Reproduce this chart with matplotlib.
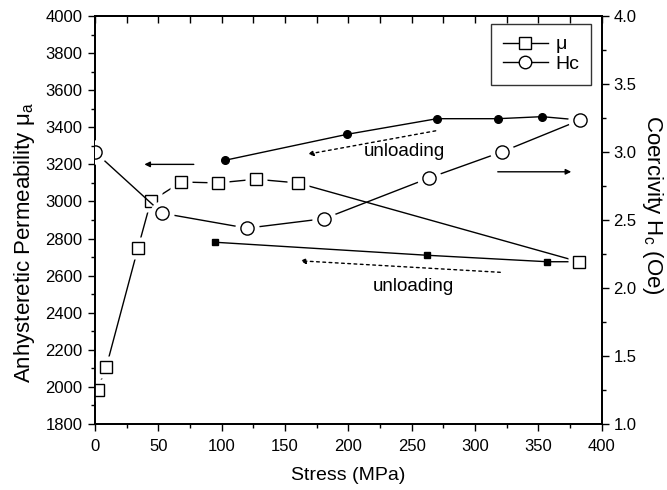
import matplotlib
matplotlib.use("Agg")
import matplotlib.pyplot as plt
from matplotlib.ticker import MultipleLocator, NullFormatter

plt.rcParams["font.family"] = ["Liberation Sans", "DejaVu Sans"]

# permeability, loading (open squares)
mu_stress = [2, 9, 34, 44, 68, 97, 127, 160, 382]
mu_vals = [1985, 2110, 2750, 3000, 3105, 3100, 3120, 3100, 2675]
# permeability, unloading (filled squares)
mu_un_stress = [357, 262, 95]
mu_un_vals = [2675, 2710, 2780]

# coercivity, loading (open circles)
hc_stress = [0, 53, 120, 181, 264, 321, 383]
hc_vals = [3.0, 2.55, 2.44, 2.51, 2.81, 3.0, 3.235]
# coercivity, unloading (filled circles)
hc_un_stress = [353, 318, 270, 199, 103]
hc_un_vals = [3.26, 3.245, 3.245, 3.13, 2.94]

BG = "white"
FS = 12

fig = plt.figure(figsize=(6.67, 4.90), dpi=100)
ax = fig.add_axes([0.1424, 0.1347, 0.7596, 0.8326])
ax2 = ax.twinx()


def gapped(a, x, y, marker, ms):
    # line, then a white halo under each marker so the line stops short of it
    a.plot(x, y, color="black", lw=1.0, zorder=2)
    a.plot(x, y, ls="none", marker=marker, ms=ms + 8, mfc=BG, mec="none", zorder=3)
    a.plot(x, y, ls="none", marker=marker, ms=ms, mfc=BG, mec="black", mew=1.0, zorder=4)


gapped(ax, mu_stress, mu_vals, "s", 8)
ax.plot([mu_stress[-1]] + mu_un_stress, [mu_vals[-1]] + mu_un_vals, color="black", lw=1.0, zorder=2)
ax.plot(mu_un_stress, mu_un_vals, ls="none", marker="s", ms=5, color="black", zorder=4)

gapped(ax2, hc_stress, hc_vals, "o", 9.5)
ax2.plot([hc_stress[-1]] + hc_un_stress, [hc_vals[-1]] + hc_un_vals, color="black", lw=1.0, zorder=2)
ax2.plot(hc_un_stress, hc_un_vals, ls="none", marker="o", ms=5.5, color="black", zorder=4)

ax.set_xlim(0, 400)
ax.set_ylim(1800, 4000)
ax2.set_ylim(1.0, 4.0)

# direction arrows
solid = dict(arrowstyle="-|>", color="black", lw=1.0, mutation_scale=8, shrinkA=0, shrinkB=0)
dotted = dict(arrowstyle="-|>", color="black", lw=1.0, ls=(0, (2, 2.5)), mutation_scale=8,
              shrinkA=0, shrinkB=0)
ax.annotate("", xy=(39, 3200), xytext=(78, 3200), arrowprops=solid)
ax.annotate("", xy=(376, 3160), xytext=(318, 3160), arrowprops=solid)
ax.annotate("", xy=(168, 3255), xytext=(269, 3381), arrowprops=dotted)
ax.annotate("", xy=(162, 2680), xytext=(320, 2618), arrowprops=dotted)
ax.text(244, 3268, "unloading", fontsize=13.5, ha="center", va="center")
ax.text(251, 2540, "unloading", fontsize=13.5, ha="center", va="center")

ax.xaxis.set_major_locator(MultipleLocator(50))
ax.xaxis.set_minor_locator(MultipleLocator(25))
ax.yaxis.set_major_locator(MultipleLocator(200))
ax.yaxis.set_minor_locator(MultipleLocator(100))
ax2.yaxis.set_major_locator(MultipleLocator(0.5))
ax2.yaxis.set_minor_locator(MultipleLocator(0.25))

ax.tick_params(axis="both", which="both", direction="out", labelsize=FS, width=1.0, pad=4)
ax.tick_params(which="major", length=5)
ax.tick_params(which="minor", length=3)
ax.tick_params(axis="x", pad=6)
ax2.tick_params(axis="y", which="both", direction="out", labelsize=FS, width=1.0)
ax2.tick_params(which="major", length=5)
ax2.tick_params(which="minor", length=3)

# top axis: inward ticks only
top = ax.secondary_xaxis("top")
top.xaxis.set_major_locator(MultipleLocator(25))
top.xaxis.set_major_formatter(NullFormatter())
top.tick_params(direction="in", length=5, width=1.0)

for a in (ax, ax2, top):
    for s in a.spines.values():
        s.set_linewidth(1.3)

ax.set_xlabel("Stress (MPa)", fontsize=14, labelpad=9)
ax.set_ylabel("Anhysteretic Permeability $\\mathregular{\\mu_a}$", fontsize=16, va="center")
ax.yaxis.set_label_coords(-0.140, 0.445)
ax2.set_ylabel("Coercivity $\\mathregular{H_c}$ (Oe)", fontsize=16, rotation=270, va="center")
ax2.yaxis.set_label_coords(1.100, 0.537)

# legend proxies
h1, = ax.plot([], [], color="black", lw=1.0, marker="s", ms=8, mfc="white", mec="black")
h2, = ax.plot([], [], color="black", lw=1.0, marker="o", ms=9, mfc="white", mec="black")
leg = ax.legend([h1, h2], ["\u03bc", "Hc"], loc="upper right", bbox_to_anchor=(0.979, 0.980),
                borderaxespad=0, fontsize=14, frameon=True, fancybox=False, edgecolor="black",
                handlelength=2.3, handletextpad=0.4, borderpad=0.6, labelspacing=0.1)
leg.get_frame().set_linewidth(1.0)
leg.set_zorder(10)

fig.savefig("out.png", dpi=100, facecolor="white")
